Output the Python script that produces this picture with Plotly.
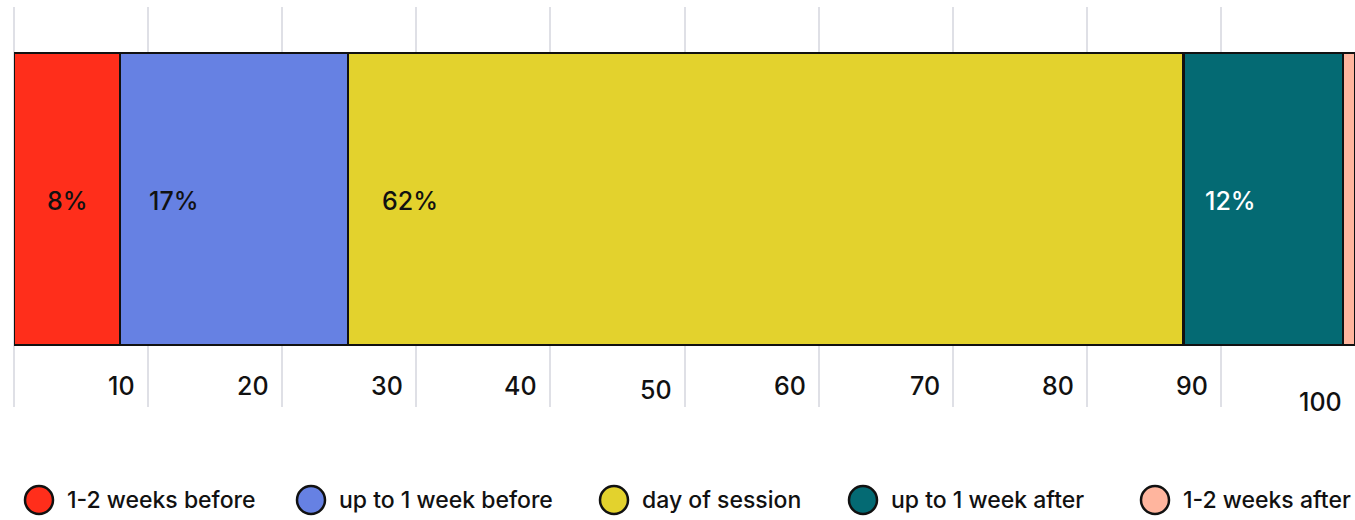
import plotly.graph_objects as go

# ---- data ----
categories = ["1-2 weeks before", "up to 1 week before", "day of session", "up to 1 week after", "1-2 weeks after"]
values = [7.9, 17.0, 62.3, 11.9, 0.9]
value_labels = ["8%", "17%", "62%", "12%", ""]
colors = ["#FF2E1B", "#6681E3", "#E3D22D", "#046A73", "#FFB59E"]
label_colors = ["#111111", "#111111", "#111111", "#FFFFFF", "#111111"]
tick_values = [10, 20, 30, 40, 50, 60, 70, 80, 90, 100]
tick_labels = ["10", "20", "30", "40", "50", "60", "70", "80", "90", "100"]

# ---- layout / style constants ----
W, H = 1355, 520
ML, MR, MT, MB = 14, 0, 7, 113
PW, PH = W - ML - MR, H - MT - MB
FONT = "Inter, Roboto, sans-serif"
label_xshift = [0, 0, 8, -6, 0]


def px_x(px):
    return (px - ML) / PW


def px_y(py):
    return (MT + PH - py) / PH


fig = go.Figure()
for cat, v, c in zip(categories, values, colors):
    fig.add_trace(go.Bar(
        y=[0], x=[v], orientation="h", name=cat,
        marker=dict(color=c, line=dict(color="#111111", width=2.8)),
        width=0.73, showlegend=False, hoverinfo="x+name",
    ))

annotations = []
# value labels inside bars
start = 0.0
for v, lab, lc, xs in zip(values, value_labels, label_colors, label_xshift):
    if lab:
        annotations.append(dict(
            x=start + 4, y=0, xref="x", yref="y", text=lab, showarrow=False,
            xanchor="center", yanchor="middle", yshift=-2, xshift=xs,
            font=dict(family=FONT, size=25, color=lc, weight=500),
        ))
    start += v

# tick labels (right-aligned, left of gridlines)
tick_yshift = {50: -4, 100: -16}
for tv, tl in zip(tick_values, tick_labels):
    annotations.append(dict(
        x=tv, y=px_y(386), xref="x", yref="paper", text=tl, showarrow=False,
        xanchor="right", yanchor="middle", xshift=-11, yshift=tick_yshift.get(tv, 0),
        font=dict(family=FONT, size=25, color="#111111", weight=500),
    ))

# custom legend
legend_circle_x = [39, 311, 614, 863, 1155]
legend_y = 500
shapes = []
for cat, c, cx in zip(categories, colors, legend_circle_x):
    shapes.append(dict(
        type="circle", xref="paper", yref="paper",
        xsizemode="pixel", ysizemode="pixel",
        xanchor=px_x(cx), yanchor=px_y(legend_y),
        x0=-14, x1=14, y0=-14, y1=14,
        fillcolor=c, line=dict(color="#111111", width=2.5),
    ))
    annotations.append(dict(
        x=px_x(cx + 26), y=px_y(legend_y), xref="paper", yref="paper",
        text=cat, showarrow=False, xanchor="left", yanchor="middle",
        font=dict(family=FONT, size=23, color="#111111", weight=500),
    ))

fig.update_layout(
    width=W, height=H,
    margin=dict(l=ML, r=MR, t=MT, b=MB),
    barmode="stack",
    plot_bgcolor="white", paper_bgcolor="white",
    xaxis=dict(range=[0, 100], tickvals=tick_values, showticklabels=False,
               showgrid=True, gridcolor="#DFE0E6", gridwidth=2,
               zeroline=True, zerolinecolor="#DFE0E6", zerolinewidth=2,
               showline=False, fixedrange=True),
    yaxis=dict(range=[-0.52, 0.48], showticklabels=False, showgrid=False,
               zeroline=False, showline=False, fixedrange=True),
    annotations=annotations,
    shapes=shapes,
    showlegend=False,
)

fig.write_html("out.html", config={"displayModeBar": False},
               post_script="document.body.style.margin='0';document.body.style.overflow='hidden';")
